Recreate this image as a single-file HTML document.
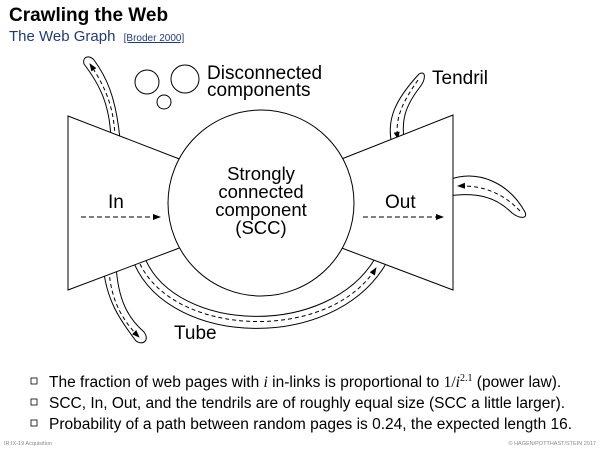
<!DOCTYPE html>
<html><head><style>
body{margin:0;background:#fff;width:600px;height:450px;overflow:hidden;position:relative;font-family:"Liberation Sans",sans-serif}
.t{position:absolute;white-space:nowrap}
</style></head><body>
<div class="t" style="left:9px;top:5px;font-size:19px;font-weight:bold;color:#000">Crawling the Web</div>
<div class="t" style="left:9px;top:28px;font-size:15px;color:#1f3a7a">The Web Graph <span style="font-size:10px;text-decoration:underline;margin-left:4px">[Broder 2000]</span></div>
<svg width="600" height="450" style="position:absolute;left:0;top:0" font-family="Liberation Sans, sans-serif">
<defs><marker id="a" markerWidth="8" markerHeight="6" refX="7" refY="3" orient="auto" markerUnits="userSpaceOnUse"><path d="M0,0L8,3L0,6Z" fill="#000"/></marker></defs>
<g fill="#fff" stroke="#000" stroke-width="1">
<path d="M140,262 C175,340 330,345 380,262" stroke-width="13" fill="none"/>
<path d="M140,262 C175,340 330,345 380,262" stroke="#fff" stroke-width="11" fill="none"/>
<path d="M140,264 C176,338 330,342 376,268" stroke-dasharray="4,3" fill="none" marker-end="url(#a)"/>
<path d="M84,64 C82,56 90,55 94,60 C105,75 116,95 120,140 L111,140 C110,105 100,85 84,64Z"/>
<path d="M115,138 C114,105 104,85 90,64" fill="none" stroke-dasharray="4,3" marker-end="url(#a)"/>
<path d="M103,265 L116,265 C118,300 128,318 144,332 C150,340 143,346 136,341 C120,320 106,300 103,265Z"/>
<path d="M109,270 C111,300 122,320 139,337" fill="none" stroke-dasharray="4,3" marker-end="url(#a)"/>
<path d="M392,145 C386,120 395,100 419,74 C426,70 426,79 420,87 C406,105 400,120 405,145Z"/>
<path d="M418,80 C404,100 394,118 398,139" fill="none" stroke-dasharray="4,3" marker-end="url(#a)"/>
<path d="M448,180 C480,168 510,185 525,212 C528,219 520,219 512,213 C495,196 475,192 448,196Z"/>
<path d="M520,211 C505,195 485,185 458,186" fill="none" stroke-dasharray="4,3" marker-end="url(#a)"/>
<path d="M68,116 L182,160 L182,247 L68,290Z"/>
<path d="M453,115 L339,160 L339,247 L453,290Z"/>
<circle cx="261" cy="203" r="93"/>
<circle cx="147" cy="82" r="12"/><circle cx="185" cy="79" r="14"/><circle cx="164" cy="102" r="7"/>
</g>
<g stroke="#000" fill="none" stroke-dasharray="5,3">
<path d="M81,217 L160,217" marker-end="url(#a)"/>
<path d="M363,217 L443,217" marker-end="url(#a)"/>
</g>
<g font-size="19" fill="#000">
<text x="207" y="79">Disconnected</text><text x="207" y="96">components</text>
<text x="432" y="84">Tendril</text>
<text x="174" y="339">Tube</text>
<text x="108" y="208">In</text>
<text x="385" y="208">Out</text>
<g text-anchor="middle" font-size="18.5"><text x="261" y="180">Strongly</text><text x="261" y="198">connected</text><text x="261" y="216">component</text><text x="261" y="234">(SCC)</text></g>
</g>
<g fill="none" stroke="#000" stroke-width="0.8"><rect x="31" y="378" width="6" height="6"/><rect x="31" y="399" width="6" height="6"/><rect x="31" y="420" width="6" height="6"/></g>
<g font-size="15.5" fill="#000">
<text x="49" y="387">The fraction of web pages with <tspan font-family="Liberation Serif" font-style="italic">i</tspan> in-links is proportional to <tspan font-family="Liberation Serif">1/<tspan font-style="italic">i</tspan><tspan font-size="10" dy="-6">2.1</tspan></tspan><tspan dy="6"> (power law).</tspan></text>
<text x="49" y="408">SCC, In, Out, and the tendrils are of roughly equal size (SCC a little larger).</text>
<text x="49" y="429">Probability of a path between random pages is 0.24, the expected length 16.</text>
</g>
<g font-size="5.5" fill="#888"><text x="4" y="445">IR:IX-19   Acquisition</text><text x="596" y="445" text-anchor="end">© HAGEN/POTTHAST/STEIN 2017</text></g>
</svg>
</body></html>
